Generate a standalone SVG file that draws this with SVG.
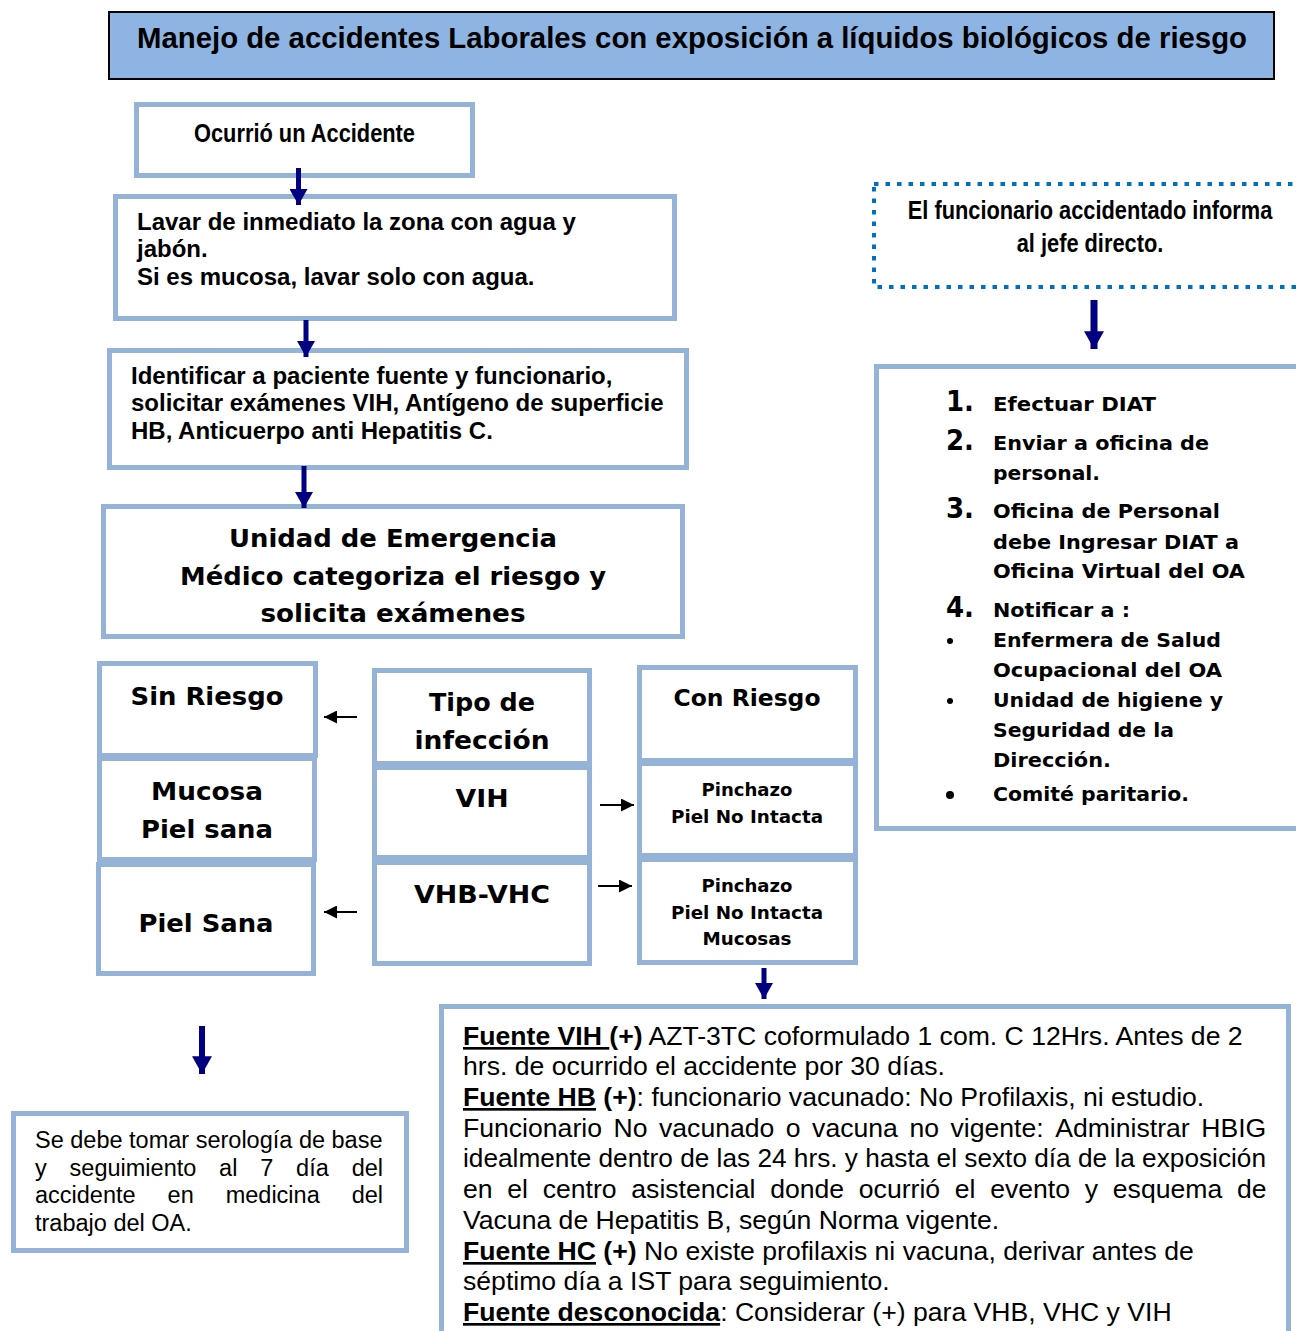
<svg xmlns="http://www.w3.org/2000/svg" width="1296" height="1331" viewBox="0 0 1296 1331">
<style>
.box{fill:#fff;stroke:#95B3D7;stroke-width:5}
.t{font-family:"Liberation Sans",Arial,sans-serif;fill:#000}
.b{font-weight:bold}
.blk{font-family:"DejaVu Sans","Liberation Sans",sans-serif;font-weight:bold;fill:#000}
.u{text-decoration:underline}
.navy{stroke:#000080;fill:none}
.thin{stroke:#000;stroke-width:2;fill:none}
</style>
<defs>
<marker id="hNavy" markerUnits="userSpaceOnUse" markerWidth="18" markerHeight="18" refX="15" refY="8.5" orient="auto" viewBox="0 0 15 17">
<path d="M0,0 L15,8.5 L0,17 Z" fill="#000080"/>
</marker>
<marker id="hNavyL" markerUnits="userSpaceOnUse" markerWidth="18" markerHeight="20" refX="16" refY="9" orient="auto" viewBox="0 0 16 18">
<path d="M0,0 L16,9 L0,18 Z" fill="#000080"/>
</marker>
<marker id="hBlk" markerUnits="userSpaceOnUse" markerWidth="13" markerHeight="13" refX="12" refY="6" orient="auto" viewBox="0 0 12 12">
<path d="M0,0 L12,6 L0,12 Z" fill="#000"/>
</marker>
</defs>

<g id="title">
<rect x="109" y="12" width="1165" height="67" fill="#8EB4E3" stroke="#000" stroke-width="2"/>
<text class="t b" x="692" y="48" font-size="29" text-anchor="middle" textLength="1110" lengthAdjust="spacingAndGlyphs">Manejo de accidentes Laborales con exposición a líquidos biológicos de riesgo</text>
</g>

<g id="n-ocurrio">
<rect class="box" x="136.5" y="104.5" width="336" height="71"/>
<text class="t b" x="304.5" y="142" font-size="26" text-anchor="middle" textLength="221" lengthAdjust="spacingAndGlyphs">Ocurrió un Accidente</text>
</g>

<g id="n-lavar">
<rect class="box" x="115.5" y="196.5" width="559" height="122"/>
<text class="t b" font-size="24"><tspan x="137" y="230">Lavar de inmediato la zona con agua y</tspan><tspan x="137" y="257">jabón.</tspan><tspan x="137" y="285">Si es mucosa, lavar solo con agua.</tspan></text>
</g>

<g id="n-identificar">
<rect class="box" x="109.5" y="350.5" width="577" height="117"/>
<text class="t b" font-size="24"><tspan x="131" y="384">Identificar a paciente fuente y funcionario,</tspan><tspan x="131" y="411">solicitar exámenes VIH, Antígeno de superficie</tspan><tspan x="131" y="439">HB, Anticuerpo anti Hepatitis C.</tspan></text>
</g>

<g id="n-unidad">
<rect class="box" x="103.5" y="506.5" width="579" height="130"/>
<text class="blk" font-size="25" text-anchor="middle" x="393" y="547" textLength="328" lengthAdjust="spacingAndGlyphs">Unidad de Emergencia</text>
<text class="blk" font-size="25" text-anchor="middle" x="393" y="585" textLength="426" lengthAdjust="spacingAndGlyphs">Médico categoriza el riesgo y</text>
<text class="blk" font-size="25" text-anchor="middle" x="393" y="622" textLength="265" lengthAdjust="spacingAndGlyphs">solicita exámenes</text>
</g>

<g id="n-sinriesgo">
<rect class="box" x="99.5" y="663.5" width="216" height="92"/>
<text class="blk" font-size="25" text-anchor="middle" x="207" y="705" textLength="153" lengthAdjust="spacingAndGlyphs">Sin Riesgo</text>
</g>
<g id="n-mucosa">
<rect class="box" x="99.5" y="758.5" width="215" height="101"/>
<text class="blk" font-size="25" text-anchor="middle" x="207" y="800" textLength="112" lengthAdjust="spacingAndGlyphs">Mucosa</text>
<text class="blk" font-size="25" text-anchor="middle" x="207" y="838" textLength="132" lengthAdjust="spacingAndGlyphs">Piel sana</text>
</g>
<g id="n-pielsana">
<rect class="box" x="98.5" y="864.5" width="215" height="109"/>
<text class="blk" font-size="25" text-anchor="middle" x="206" y="932" textLength="135" lengthAdjust="spacingAndGlyphs">Piel Sana</text>
</g>

<g id="n-tipo">
<rect class="box" x="374.5" y="670.5" width="215" height="93"/>
<text class="blk" font-size="25" text-anchor="middle" x="482" y="711" textLength="106" lengthAdjust="spacingAndGlyphs">Tipo de</text>
<text class="blk" font-size="25" text-anchor="middle" x="482" y="749" textLength="135" lengthAdjust="spacingAndGlyphs">infección</text>
</g>
<g id="n-vih">
<rect class="box" x="374.5" y="767.5" width="215" height="90"/>
<text class="blk" font-size="25" text-anchor="middle" x="482" y="807" textLength="53" lengthAdjust="spacingAndGlyphs">VIH</text>
</g>
<g id="n-vhb">
<rect class="box" x="374.5" y="862.5" width="215" height="101"/>
<text class="blk" font-size="25" text-anchor="middle" x="482" y="903" textLength="136" lengthAdjust="spacingAndGlyphs">VHB-VHC</text>
</g>

<g id="n-conriesgo">
<rect class="box" x="639.5" y="667.5" width="216" height="93"/>
<text class="blk" font-size="23" text-anchor="middle" x="747" y="706" textLength="147" lengthAdjust="spacingAndGlyphs">Con Riesgo</text>
</g>
<g id="n-pinchazo1">
<rect class="box" x="639.5" y="763.5" width="216" height="92"/>
<text class="blk" font-size="17" text-anchor="middle" x="747" y="796" textLength="91" lengthAdjust="spacingAndGlyphs">Pinchazo</text>
<text class="blk" font-size="17" text-anchor="middle" x="747" y="823" textLength="152" lengthAdjust="spacingAndGlyphs">Piel No Intacta</text>
</g>
<g id="n-pinchazo2">
<rect class="box" x="639.5" y="859.5" width="216" height="103"/>
<text class="blk" font-size="17" text-anchor="middle" x="747" y="892" textLength="91" lengthAdjust="spacingAndGlyphs">Pinchazo</text>
<text class="blk" font-size="17" text-anchor="middle" x="747" y="919" textLength="152" lengthAdjust="spacingAndGlyphs">Piel No Intacta</text>
<text class="blk" font-size="17" text-anchor="middle" x="747" y="945" textLength="89" lengthAdjust="spacingAndGlyphs">Mucosas</text>
</g>

<g id="n-informa">
<rect x="874" y="184" width="424" height="103" fill="#fff" stroke="#0070C0" stroke-width="4" stroke-dasharray="4.5 7"/>
<text class="t b" font-size="21.8" text-anchor="middle" transform="translate(1090,219) scale(1,1.17)" x="0" y="0">El funcionario accidentado informa</text>
<text class="t b" font-size="21.8" text-anchor="middle" transform="translate(1090,252) scale(1,1.17)" x="0" y="0">al jefe directo.</text>
</g>

<g id="n-pasos">
<rect class="box" x="876.5" y="366.5" width="430" height="462"/>
<g class="blk" font-size="29">
<text x="946" y="411" textLength="28" lengthAdjust="spacingAndGlyphs">1.</text>
<text x="946" y="450" textLength="28" lengthAdjust="spacingAndGlyphs">2.</text>
<text x="946" y="518" textLength="28" lengthAdjust="spacingAndGlyphs">3.</text>
<text x="946" y="617" textLength="28" lengthAdjust="spacingAndGlyphs">4.</text>
</g>
<g class="blk" font-size="20">
<text x="993" y="411" textLength="163" lengthAdjust="spacingAndGlyphs">Efectuar DIAT</text>
<text x="993" y="450" textLength="216" lengthAdjust="spacingAndGlyphs">Enviar a oficina de</text>
<text x="993" y="480" textLength="107" lengthAdjust="spacingAndGlyphs">personal.</text>
<text x="993" y="518" textLength="227" lengthAdjust="spacingAndGlyphs">Oficina de Personal</text>
<text x="993" y="549" textLength="246" lengthAdjust="spacingAndGlyphs">debe Ingresar DIAT a</text>
<text x="993" y="578" textLength="252" lengthAdjust="spacingAndGlyphs">Oficina Virtual del OA</text>
<text x="993" y="617" textLength="137" lengthAdjust="spacingAndGlyphs">Notificar a :</text>
<text x="993" y="647" textLength="228" lengthAdjust="spacingAndGlyphs">Enfermera de Salud</text>
<text x="993" y="677" textLength="229" lengthAdjust="spacingAndGlyphs">Ocupacional del OA</text>
<text x="993" y="707" textLength="230" lengthAdjust="spacingAndGlyphs">Unidad de higiene y</text>
<text x="993" y="737" textLength="181" lengthAdjust="spacingAndGlyphs">Seguridad de la</text>
<text x="993" y="767" textLength="118" lengthAdjust="spacingAndGlyphs">Dirección.</text>
<text x="993" y="801" textLength="196" lengthAdjust="spacingAndGlyphs">Comité paritario.</text>
</g>
<circle cx="950" cy="641" r="3"/>
<circle cx="950" cy="701" r="3"/>
<circle cx="950" cy="795" r="4"/>
</g>

<g id="n-serologia">
<rect class="box" x="13.5" y="1113.5" width="393" height="137"/>
<g class="t" font-size="23.5">
<text x="35" y="1148">Se debe tomar serología de base</text>
<text y="1176"><tspan x="35">y</tspan><tspan x="69.6">seguimiento</tspan><tspan x="219.1">al</tspan><tspan x="260.2">7</tspan><tspan x="296.1">día</tspan><tspan x="351.7">del</tspan></text>
<text y="1203"><tspan x="35">accidente</tspan><tspan x="167.6">en</tspan><tspan x="225.7">medicina</tspan><tspan x="351.7">del</tspan></text>
<text x="35" y="1231">trabajo del OA.</text>
</g>
</g>

<g id="n-fuentes">
<rect class="box" x="441.5" y="1006.5" width="847" height="340"/>
<g class="t" font-size="26.6">
<text x="463" y="1045"><tspan class="b u">Fuente VIH </tspan><tspan class="b">(+)</tspan> AZT-3TC coformulado 1 com. C 12Hrs. Antes de 2</text>
<text x="463" y="1075">hrs. de ocurrido el accidente por 30 días.</text>
<text x="463" y="1106"><tspan class="b u">Fuente HB</tspan><tspan class="b"> (+)</tspan>: funcionario vacunado: No Profilaxis, ni estudio.</text>
<text y="1137"><tspan x="463">Funcionario</tspan><tspan x="613.5">No</tspan><tspan x="659">vacunado</tspan><tspan x="785.8">o</tspan><tspan x="812.1">vacuna</tspan><tspan x="909.4">no</tspan><tspan x="950.5">vigente:</tspan><tspan x="1055.2">Administrar</tspan><tspan x="1201.2">HBIG</tspan></text>
<text x="463" y="1167" textLength="803" lengthAdjust="spacingAndGlyphs">idealmente dentro de las 24 hrs. y hasta el sexto día de la exposición</text>
<text y="1198"><tspan x="463">en</tspan><tspan x="507.3">el</tspan><tspan x="542.7">centro</tspan><tspan x="631.3">asistencial</tspan><tspan x="770.2">donde</tspan><tspan x="858.8">ocurrió</tspan><tspan x="954.8">el</tspan><tspan x="990.2">evento</tspan><tspan x="1084.8">y</tspan><tspan x="1112.8">esquema</tspan><tspan x="1236.9">de</tspan></text>
<text x="463" y="1229">Vacuna de Hepatitis B, según Norma vigente.</text>
<text x="463" y="1260"><tspan class="b u">Fuente HC</tspan><tspan class="b"> (+)</tspan> No existe profilaxis ni vacuna, derivar antes de</text>
<text x="463" y="1290">séptimo día a IST para seguimiento.</text>
<text x="463" y="1321"><tspan class="b u">Fuente desconocida</tspan>: Considerar (+) para VHB, VHC y VIH</text>
</g>
</g>

<g id="connectors">
<line class="navy" x1="298.5" y1="168" x2="298.5" y2="205" stroke-width="5" marker-end="url(#hNavy)"/>
<line class="navy" x1="306" y1="320" x2="306" y2="357" stroke-width="5" marker-end="url(#hNavy)"/>
<line class="navy" x1="304" y1="466" x2="304" y2="508" stroke-width="5" marker-end="url(#hNavy)"/>
<line class="navy" x1="1094" y1="300" x2="1094" y2="349" stroke-width="7" marker-end="url(#hNavyL)"/>
<line class="navy" x1="764" y1="968" x2="764" y2="999" stroke-width="5" marker-end="url(#hNavy)"/>
<line class="navy" x1="202" y1="1026" x2="202" y2="1074" stroke-width="6" marker-end="url(#hNavyL)"/>
<line class="thin" x1="357" y1="717" x2="324" y2="717" marker-end="url(#hBlk)"/>
<line class="thin" x1="357" y1="912" x2="324" y2="912" marker-end="url(#hBlk)"/>
<line class="thin" x1="600" y1="805" x2="634" y2="805" marker-end="url(#hBlk)"/>
<line class="thin" x1="598" y1="886" x2="632" y2="886" marker-end="url(#hBlk)"/>
</g>
</svg>
